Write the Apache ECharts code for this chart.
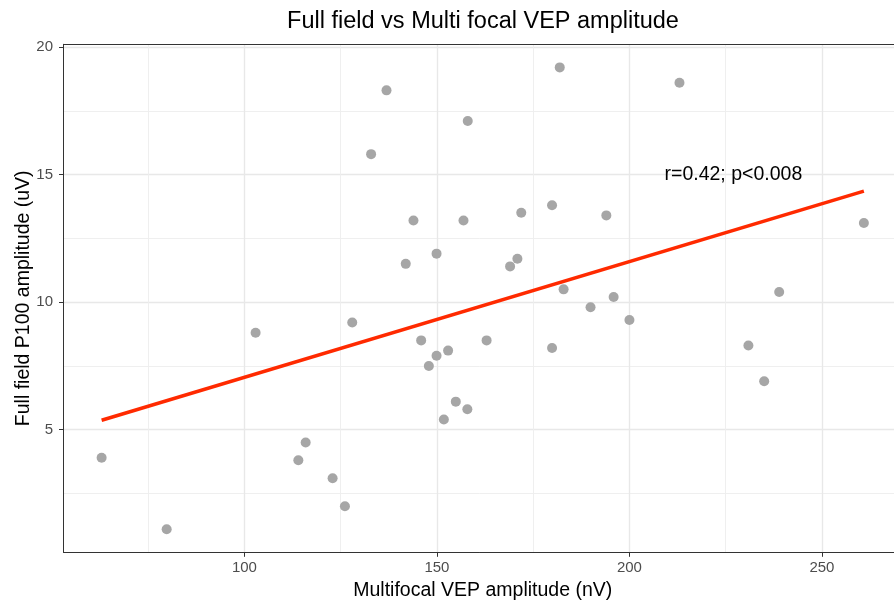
<!DOCTYPE html>
<html>
<head>
<meta charset="utf-8">
<script src="https://cdn.jsdelivr.net/npm/echarts@6/dist/echarts.min.js"></script>
<style>html,body{margin:0;padding:0;background:#fff}#c{width:894px;height:603px}</style>
</head>
<body>
<div id="c"></div>
<script>
// Data
const xVals = [62.9, 79.8, 102.9, 114.0, 115.9, 122.9, 126.1, 128.0, 132.9, 136.9, 141.9, 143.9, 145.9, 147.9, 149.9, 149.9, 151.8, 152.9, 154.9, 156.9, 158.0, 157.9, 162.9, 169.0, 170.9, 171.9, 179.9, 179.9, 181.9, 182.9, 189.9, 194.0, 195.9, 200.0, 213.0, 230.9, 235.0, 238.9, 260.9];
const yVals = [3.9, 1.1, 8.8, 3.8, 4.5, 3.1, 2.0, 9.2, 15.8, 18.3, 11.5, 13.2, 8.5, 7.5, 11.9, 7.9, 5.4, 8.1, 6.1, 13.2, 17.1, 5.8, 8.5, 11.4, 11.7, 13.5, 13.8, 8.2, 19.2, 10.5, 9.8, 13.4, 10.2, 9.3, 18.6, 8.3, 6.9, 10.4, 13.1];
const fitX = [62.9, 260.9];
const fitY = [5.37, 14.35];
const xTicks = [100, 150, 200, 250];
const xMinor = [75, 125, 175, 225];
const yTicks = [5, 10, 15, 20];
const yMinor = [2.5, 7.5, 12.5, 17.5];
const xRange = [53.0, 270.8];
const yRange = [0.195, 20.105];
const annoX = [227];
const annoY = [15];
const annoText = 'r=0.42; p<0.008';
const titleText = 'Full field vs Multi focal VEP amplitude';
const xName = 'Multifocal VEP amplitude (nV)';
const yName = 'Full field P100 amplitude (uV)';

const FONT = '"Liberation Sans", Arial, Helvetica, sans-serif';
const points = xVals.map((x, i) => [x, yVals[i]]);
const fit = fitX.map((x, i) => [x, fitY[i]]);
const anno = annoX.map((x, i) => [x, annoY[i]]);

const chart = echarts.init(document.getElementById('c'), null, {renderer: 'canvas'});
chart.setOption({
  animation: false,
  backgroundColor: '#ffffff',
  title: {
    text: titleText, left: 483, top: 10, padding: 0, textAlign: 'center',
    textStyle: {fontFamily: FONT, fontSize: 23.5, fontWeight: 'normal', color: '#000'}
  },
  grid: {left: 63.5, top: 44.3, width: 838.5, height: 508, containLabel: false, outerBoundsMode: 'none'},
  xAxis: [{
    type: 'value', min: xRange[0], max: xRange[1], position: 'bottom',
    axisLine: {show: true, lineStyle: {color: '#333333', width: 1}},
    axisTick: {show: true, length: 4.5, customValues: xTicks, lineStyle: {color: '#333333', width: 1}},
    axisLabel: {customValues: xTicks, fontFamily: FONT, fontSize: 15, color: '#4d4d4d', margin: 8},
    splitLine: {show: true, lineStyle: {color: '#e8e8e8', width: 1.4}},
    name: xName, nameLocation: 'middle', nameGap: 28, nameMoveOverlap: false,
    nameTextStyle: {fontFamily: FONT, fontSize: 19.5, color: '#000'}
  }, {
    type: 'value', min: xRange[0], max: xRange[1], position: 'top',
    axisLine: {show: true, lineStyle: {color: '#333333', width: 1}},
    axisTick: {show: false, customValues: xMinor},
    axisLabel: {show: false, customValues: xMinor},
    splitLine: {show: true, lineStyle: {color: '#ededed', width: 0.9}}
  }],
  yAxis: [{
    type: 'value', min: yRange[0], max: yRange[1], position: 'left',
    axisLine: {show: true, lineStyle: {color: '#333333', width: 1}},
    axisTick: {show: true, length: 4.5, customValues: yTicks, lineStyle: {color: '#333333', width: 1}},
    axisLabel: {customValues: yTicks, fontFamily: FONT, fontSize: 15, color: '#4d4d4d', margin: 10.5},
    splitLine: {show: true, lineStyle: {color: '#e8e8e8', width: 1.4}},
    name: yName, nameLocation: 'middle', nameGap: 30, nameRotate: 90, nameMoveOverlap: false,
    nameTextStyle: {fontFamily: FONT, fontSize: 19.5, color: '#000'}
  }, {
    type: 'value', min: yRange[0], max: yRange[1], position: 'right',
    axisLine: {show: false},
    axisTick: {show: false, customValues: yMinor},
    axisLabel: {show: false, customValues: yMinor},
    splitLine: {show: true, lineStyle: {color: '#ededed', width: 0.9}}
  }],
  series: [{
    type: 'scatter', xAxisIndex: 0, yAxisIndex: 0, data: points,
    symbol: 'circle', symbolSize: 10,
    itemStyle: {color: '#a6a6a6', opacity: 1}, z: 3
  }, {
    type: 'line', xAxisIndex: 0, yAxisIndex: 0, data: fit,
    symbol: 'none', lineStyle: {color: '#ff2a00', width: 3.5}, z: 4
  }, {
    type: 'scatter', xAxisIndex: 0, yAxisIndex: 0, data: anno,
    symbolSize: 0, z: 5, itemStyle: {opacity: 1},
    label: {show: true, position: 'inside', formatter: () => annoText,
      fontFamily: FONT, fontSize: 19.5, color: '#000', textBorderWidth: 0}
  }]
});
</script>
</body>
</html>
